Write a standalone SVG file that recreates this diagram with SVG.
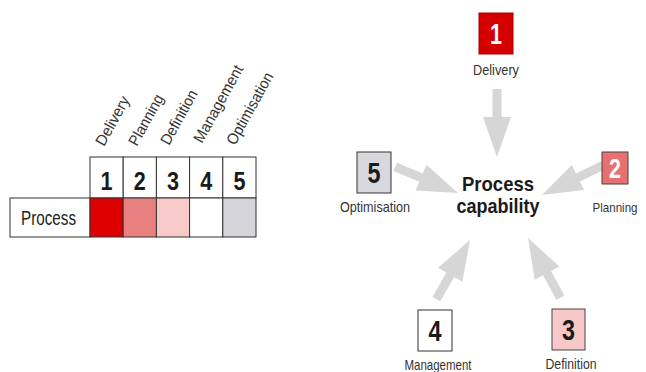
<svg xmlns="http://www.w3.org/2000/svg" xmlns:xlink="http://www.w3.org/1999/xlink" width="646" height="372" viewBox="0 0 646 372">
<style>
.cell{stroke:#333;stroke-width:1}
.num{font-family:"Liberation Sans Narrow","Liberation Sans",Arial,sans-serif;font-weight:bold;text-anchor:middle;fill:#1a1a1a}
.lbl{font-family:"Liberation Sans Narrow","Liberation Sans",Arial,sans-serif;font-size:15px;text-anchor:middle;fill:#333}
.rot{font-family:"Liberation Sans Narrow","Liberation Sans",Arial,sans-serif;font-size:15.5px;fill:#333}
.arrow{fill:#d6d6d6}
</style>
<defs>
<path id="arr" d="M0,0 L-40,-14 L-40,-4.5 L-68,-4.5 L-68,4.5 L-40,4.5 L-40,14 Z"/>
</defs>
<rect width="646" height="372" fill="#fff"/>
<g id="table">
<g id="header-labels">
<text class="rot" transform="translate(104,147) rotate(-61)" textLength="54" lengthAdjust="spacingAndGlyphs">Delivery</text>
<text class="rot" transform="translate(137,147) rotate(-61)" textLength="56" lengthAdjust="spacingAndGlyphs">Planning</text>
<text class="rot" transform="translate(169,146) rotate(-61)" textLength="60" lengthAdjust="spacingAndGlyphs">Definition</text>
<text class="rot" transform="translate(202,144) rotate(-61)" textLength="86" lengthAdjust="spacingAndGlyphs">Management</text>
<text class="rot" transform="translate(235,146) rotate(-61)" textLength="80" lengthAdjust="spacingAndGlyphs">Optimisation</text>
</g>
<g id="header-numbers">
<rect class="cell" x="90" y="157" width="33.2" height="41" fill="#fff"/>
<rect class="cell" x="123.2" y="157" width="33.2" height="41" fill="#fff"/>
<rect class="cell" x="156.4" y="157" width="33.2" height="41" fill="#fff"/>
<rect class="cell" x="189.6" y="157" width="33.2" height="41" fill="#fff"/>
<rect class="cell" x="222.8" y="157" width="33.2" height="41" fill="#fff"/>
<text class="num" x="106.6" y="190" font-size="25" textLength="12" lengthAdjust="spacingAndGlyphs">1</text>
<text class="num" x="139.8" y="190" font-size="25" textLength="12" lengthAdjust="spacingAndGlyphs">2</text>
<text class="num" x="173" y="190" font-size="25" textLength="12" lengthAdjust="spacingAndGlyphs">3</text>
<text class="num" x="206.2" y="190" font-size="25" textLength="12" lengthAdjust="spacingAndGlyphs">4</text>
<text class="num" x="239.4" y="190" font-size="25" textLength="12" lengthAdjust="spacingAndGlyphs">5</text>
</g>
<g id="process-row">
<rect class="cell" x="10" y="198" width="80" height="39" fill="#fff"/>
<text x="21" y="225" font-family="'Liberation Sans Narrow','Liberation Sans',Arial,sans-serif" font-size="20" fill="#222" textLength="55" lengthAdjust="spacingAndGlyphs">Process</text>
<rect class="cell" x="90" y="198" width="33.2" height="39" fill="#dd0000"/>
<rect class="cell" x="123.2" y="198" width="33.2" height="39" fill="#e98080"/>
<rect class="cell" x="156.4" y="198" width="33.2" height="39" fill="#f7c9c9"/>
<rect class="cell" x="189.6" y="198" width="33.2" height="39" fill="#fff"/>
<rect class="cell" x="222.8" y="198" width="33.2" height="39" fill="#d5d5d9"/>
</g>
</g>
<g id="connectors">
<use xlink:href="#arr" href="#arr" class="arrow" transform="translate(497,157) rotate(90)"/>
<use xlink:href="#arr" href="#arr" class="arrow" transform="translate(458,193) rotate(22.6)"/>
<use xlink:href="#arr" href="#arr" class="arrow" transform="translate(542,195) rotate(154)"/>
<use xlink:href="#arr" href="#arr" class="arrow" transform="translate(470,240) rotate(-60.4)"/>
<use xlink:href="#arr" href="#arr" class="arrow" transform="translate(528,238) rotate(-118.5)"/>
</g>
<g id="center">
<text x="498" y="191" font-family="'Liberation Sans Narrow','Liberation Sans',Arial,sans-serif" font-weight="bold" font-size="21" text-anchor="middle" fill="#1a1a1a" textLength="72" lengthAdjust="spacingAndGlyphs">Process</text>
<text x="498" y="213" font-family="'Liberation Sans Narrow','Liberation Sans',Arial,sans-serif" font-weight="bold" font-size="21" text-anchor="middle" fill="#1a1a1a" textLength="83" lengthAdjust="spacingAndGlyphs">capability</text>
</g>
<g id="node-1">
<rect x="479" y="13" width="34" height="41" fill="#d40000" stroke="#a00000" stroke-width="1"/>
<text class="num" x="496" y="44" font-size="30" style="fill:#fff" textLength="12" lengthAdjust="spacingAndGlyphs">1</text>
<text class="lbl" x="496" y="75" textLength="46" lengthAdjust="spacingAndGlyphs">Delivery</text>
</g>
<g id="node-2">
<rect x="602" y="152" width="26" height="32" fill="#e87070" stroke="#444" stroke-width="1"/>
<text class="num" x="615" y="178" font-size="27" style="fill:#fff" textLength="12" lengthAdjust="spacingAndGlyphs">2</text>
<text class="lbl" x="615" y="212" style="font-size:13.5px" textLength="45" lengthAdjust="spacingAndGlyphs">Planning</text>
</g>
<g id="node-3">
<rect x="552" y="309" width="33" height="41" fill="#f8c8c8" stroke="#444" stroke-width="1"/>
<text class="num" x="568.5" y="340" font-size="30" textLength="13" lengthAdjust="spacingAndGlyphs">3</text>
<text class="lbl" x="571" y="369" textLength="51" lengthAdjust="spacingAndGlyphs">Definition</text>
</g>
<g id="node-4">
<rect x="418" y="310" width="34" height="41" fill="#fff" stroke="#333" stroke-width="1"/>
<text class="num" x="435" y="341" font-size="30" textLength="13" lengthAdjust="spacingAndGlyphs">4</text>
<text class="lbl" x="438" y="370" textLength="67" lengthAdjust="spacingAndGlyphs">Management</text>
</g>
<g id="node-5">
<rect x="357" y="152" width="34" height="41" fill="#d8d8dc" stroke="#333" stroke-width="1"/>
<text class="num" x="374" y="183" font-size="30" textLength="13" lengthAdjust="spacingAndGlyphs">5</text>
<text class="lbl" x="375" y="212" textLength="70" lengthAdjust="spacingAndGlyphs">Optimisation</text>
</g>
</svg>
